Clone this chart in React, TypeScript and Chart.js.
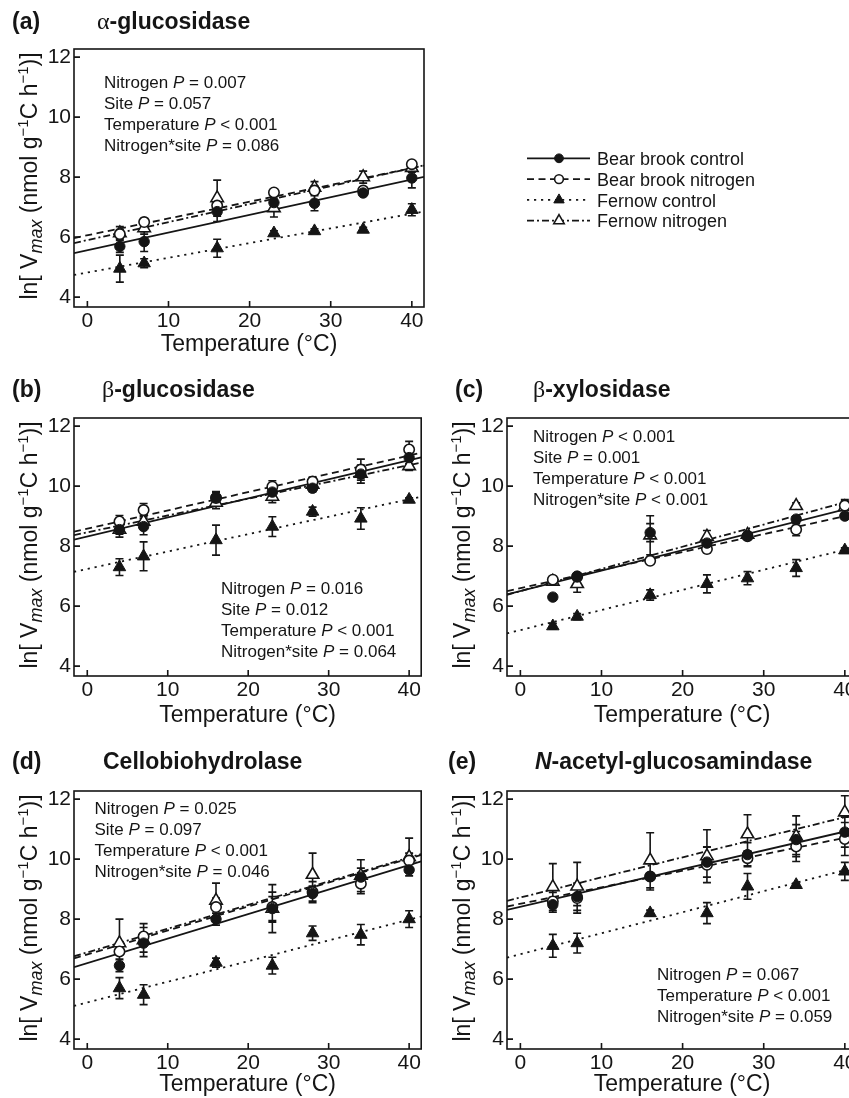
import React, { useEffect, useRef } from "react";
import { Chart, registerables } from "chart.js";

Chart.register(...registerables);

// ---------- shared data ----------
const temperatures = [4, 7, 16, 23, 28, 34, 40];
const xTickValues = [0, 10, 20, 30, 40];
const yTickValues = [4, 6, 8, 10, 12];
const xLimits = [-1.65, 41.5];
const yLimits = [3.67, 12.27];
const seriesNames = ["Bear brook control", "Bear brook nitrogen", "Fernow control", "Fernow nitrogen"];
const xTitle = "Temperature (°C)";

// ---------- (a) α-glucosidase ----------
const aBearControl = [5.69, 5.85, 6.85, 7.15, 7.13, 7.47, 7.97];
const aBearControlErr = [0.2, 0.33, 0.33, 0.2, 0.25, 0.08, 0.33];
const aBearNitrogen = [6.1, 6.5, 7.05, 7.49, 7.55, 7.55, 8.43];
const aBearNitrogenErr = [0.15, 0.12, 0.2, 0.08, 0.15, 0.08, 0.1];
const aFernowControl = [4.95, 5.13, 5.63, 6.13, 6.2, 6.25, 6.91];
const aFernowControlErr = [0.45, 0.15, 0.3, 0.08, 0.08, 0.08, 0.2];
const aFernowNitrogen = [6.13, 6.3, 7.3, 6.97, 7.65, 8.0, 8.31];
const aFernowNitrogenErr = [0.22, 0.2, 0.6, 0.3, 0.2, 0.2, 0.15];
const aIntercepts = [5.56, 6.06, 4.82, 5.9];
const aSlopes = [0.059, 0.056, 0.049, 0.06];

// ---------- (b) β-glucosidase ----------
const bBearControl = [8.55, 8.65, 9.62, 9.8, 9.93, 10.4, 10.95];
const bBearControlErr = [0.15, 0.27, 0.2, 0.15, 0.12, 0.3, 0.2];
const bBearNitrogen = [8.82, 9.2, 9.6, 9.98, 10.15, 10.55, 11.22];
const bBearNitrogenErr = [0.2, 0.22, 0.2, 0.2, 0.15, 0.35, 0.27];
const bFernowControl = [7.3, 7.66, 8.2, 8.65, 9.15, 8.92, 9.55];
const bFernowControlErr = [0.28, 0.48, 0.5, 0.33, 0.15, 0.36, 0.06];
const bFernowNitrogen = [8.55, 8.82, 9.45, 9.65, 10.05, 10.42, 10.67];
const bFernowNitrogenErr = [0.25, 0.2, 0.2, 0.2, 0.15, 0.15, 0.15];
const bIntercepts = [8.32, 8.58, 7.24, 8.46];
const bSlopes = [0.0636, 0.061, 0.058, 0.056];

// ---------- (c) β-xylosidase ----------
const cBearControl = [6.3, 7.0, 8.45, 8.1, 8.35, 8.9, 9.0];
const cBearControlErr = [0.1, 0.1, 0.3, 0.1, 0.1, 0.1, 0.1];
const cBearNitrogen = [6.88, 6.98, 7.51, 7.9, 8.33, 8.55, 9.35];
const cBearNitrogenErr = [0.1, 0.12, 0.1, 0.12, 0.1, 0.2, 0.15];
const cFernowControl = [5.33, 5.65, 6.37, 6.74, 6.93, 7.27, 7.86];
const cFernowControlErr = [0.1, 0.1, 0.17, 0.3, 0.22, 0.28, 0.08];
const cFernowNitrogen = [6.82, 6.74, 8.36, 8.32, 8.38, 9.34, 9.3];
const cFernowNitrogenErr = [0.12, 0.28, 0.65, 0.2, 0.1, 0.1, 0.25];
const cIntercepts = [6.5, 6.6, 5.2, 6.5];
const cSlopes = [0.068, 0.06, 0.067, 0.074];

// ---------- (d) Cellobiohydrolase ----------
const dBearControl = [6.45, 7.2, 8.0, 8.35, 8.85, 9.4, 9.64];
const dBearControlErr = [0.2, 0.3, 0.2, 0.4, 0.25, 0.3, 0.2];
const dBearNitrogen = [6.92, 7.42, 8.4, 8.4, 8.9, 9.18, 9.95];
const dBearNitrogenErr = [0.25, 0.3, 0.3, 0.5, 0.35, 0.33, 0.25];
const dFernowControl = [5.7, 5.48, 6.55, 6.45, 7.53, 7.48, 8.0];
const dFernowControlErr = [0.35, 0.33, 0.15, 0.28, 0.24, 0.34, 0.28];
const dFernowNitrogen = [7.2, 7.3, 8.62, 8.35, 9.48, 9.45, 10.07];
const dFernowNitrogenErr = [0.8, 0.55, 0.58, 0.8, 0.72, 0.53, 0.63];
const dIntercepts = [6.53, 6.82, 5.22, 6.89];
const dSlopes = [0.0817, 0.08, 0.069, 0.079];

// ---------- (e) N-acetyl-glucosamindase ----------
const eBearControl = [8.48, 8.75, 9.42, 9.9, 10.15, 10.65, 10.9];
const eBearControlErr = [0.25, 0.3, 0.45, 0.5, 0.4, 0.5, 0.5];
const eBearNitrogen = [8.59, 8.7, 9.42, 9.81, 10.03, 10.42, 10.67];
const eBearNitrogenErr = [0.3, 0.5, 0.45, 0.6, 0.25, 0.5, 0.55];
const eFernowControl = [7.11, 7.2, 8.2, 8.2, 9.09, 9.14, 9.59];
const eFernowControlErr = [0.38, 0.33, 0.1, 0.35, 0.43, 0.05, 0.3];
const eFernowNitrogen = [9.07, 9.09, 9.96, 10.1, 10.83, 10.76, 11.56];
const eFernowNitrogenErr = [0.78, 0.8, 0.92, 0.88, 0.65, 0.68, 0.55];
const eIntercepts = [8.41, 8.51, 6.83, 8.72];
const eSlopes = [0.0627, 0.055, 0.07, 0.067];

// ---------- statistics text ----------
const aNotes = [["Nitrogen ", " = 0.007"], ["Site ", " = 0.057"], ["Temperature ", " < 0.001"], ["Nitrogen*site ", " = 0.086"]];
const bNotes = [["Nitrogen ", " = 0.016"], ["Site ", " = 0.012"], ["Temperature ", " < 0.001"], ["Nitrogen*site ", " = 0.064"]];
const cNotes = [["Nitrogen ", " < 0.001"], ["Site ", " = 0.001"], ["Temperature ", " < 0.001"], ["Nitrogen*site ", " < 0.001"]];
const dNotes = [["Nitrogen ", " = 0.025"], ["Site ", " = 0.097"], ["Temperature ", " < 0.001"], ["Nitrogen*site ", " = 0.046"]];
const eNotes = [["Nitrogen ", " = 0.067"], ["Temperature ", " < 0.001"], ["Nitrogen*site ", " = 0.059"]];

// ---------- styles ----------
const SANS = '"Liberation Sans", Arial, Helvetica, sans-serif';
const SERIF = '"Liberation Serif", "Times New Roman", serif';
const INK = "#151515";
const Y_AXIS_W = 36;

type Seg = { text: string; font: string; dy?: number };

const seriesStyles = [
  { pointStyle: "circle", filled: true, dash: [] as number[], r: 5.2 },
  { pointStyle: "circle", filled: false, dash: [7, 4.5], r: 5.2 },
  { pointStyle: "triangle", filled: true, dash: [2.2, 4.8], r: 7.2 },
  { pointStyle: "triangle", filled: false, dash: [7, 3, 2, 3], r: 7.2 },
];

const TITLE_FONT = `bold 23px ${SANS}`;
const NOTE_FONT = `17px ${SANS}`;
const NOTE_ITALIC = `italic 17px ${SANS}`;
const NOTE_LH = 21.1;

interface PanelDef {
  key: string;
  letter: string;
  title: Seg[];
  series: number[][];
  errors: number[][];
  intercepts: number[];
  slopes: number[];
  notes: string[][];
  notesX: number;
  notesY: number;
  canvas: { x: number; y: number; w: number; h: number };
  area: { left: number; top: number; right: number; bottom: number };
  letterX: number;
  titleX: number;
  titleY: number;
  xTitleOffset: number;
  legend?: boolean;
}

const panels: PanelDef[] = [
  {
    key: "a",
    letter: "(a)",
    title: [
      { text: "α", font: `24px ${SERIF}` },
      { text: "-glucosidase", font: TITLE_FONT },
    ],
    series: [aBearControl, aBearNitrogen, aFernowControl, aFernowNitrogen],
    errors: [aBearControlErr, aBearNitrogenErr, aFernowControlErr, aFernowNitrogenErr],
    intercepts: aIntercepts,
    slopes: aSlopes,
    notes: aNotes,
    notesX: 104,
    notesY: 87.5,
    canvas: { x: 0, y: 0, w: 849, h: 365 },
    area: { left: 74, top: 49, right: 424, bottom: 307 },
    letterX: 12,
    titleX: 97,
    titleY: 29,
    xTitleOffset: 38,
    legend: true,
  },
  {
    key: "b",
    letter: "(b)",
    title: [
      { text: "β", font: `24px ${SERIF}` },
      { text: "-glucosidase", font: TITLE_FONT },
    ],
    series: [bBearControl, bBearNitrogen, bFernowControl, bFernowNitrogen],
    errors: [bBearControlErr, bBearNitrogenErr, bFernowControlErr, bFernowNitrogenErr],
    intercepts: bIntercepts,
    slopes: bSlopes,
    notes: bNotes,
    notesX: 221,
    notesY: 594,
    canvas: { x: 0, y: 365, w: 430, h: 365 },
    area: { left: 74, top: 418, right: 424, bottom: 676 },
    letterX: 12,
    titleX: 102,
    titleY: 397,
    xTitleOffset: 40,
  },
  {
    key: "c",
    letter: "(c)",
    title: [
      { text: "β", font: `24px ${SERIF}` },
      { text: "-xylosidase", font: TITLE_FONT },
    ],
    series: [cBearControl, cBearNitrogen, cFernowControl, cFernowNitrogen],
    errors: [cBearControlErr, cBearNitrogenErr, cFernowControlErr, cFernowNitrogenErr],
    intercepts: cIntercepts,
    slopes: cSlopes,
    notes: cNotes,
    notesX: 533,
    notesY: 441.5,
    canvas: { x: 430, y: 365, w: 440, h: 365 },
    area: { left: 507, top: 418, right: 857, bottom: 676 },
    letterX: 455,
    titleX: 533,
    titleY: 397,
    xTitleOffset: 40,
  },
  {
    key: "d",
    letter: "(d)",
    title: [{ text: "Cellobiohydrolase", font: TITLE_FONT }],
    series: [dBearControl, dBearNitrogen, dFernowControl, dFernowNitrogen],
    errors: [dBearControlErr, dBearNitrogenErr, dFernowControlErr, dFernowNitrogenErr],
    intercepts: dIntercepts,
    slopes: dSlopes,
    notes: dNotes,
    notesX: 94.5,
    notesY: 813.5,
    canvas: { x: 0, y: 730, w: 430, h: 372 },
    area: { left: 74, top: 791, right: 424, bottom: 1049 },
    letterX: 12,
    titleX: 103,
    titleY: 769,
    xTitleOffset: 36,
  },
  {
    key: "e",
    letter: "(e)",
    title: [
      { text: "N", font: `italic bold 23px ${SANS}` },
      { text: "-acetyl-glucosamindase", font: TITLE_FONT },
    ],
    series: [eBearControl, eBearNitrogen, eFernowControl, eFernowNitrogen],
    errors: [eBearControlErr, eBearNitrogenErr, eFernowControlErr, eFernowNitrogenErr],
    intercepts: eIntercepts,
    slopes: eSlopes,
    notes: eNotes,
    notesX: 657,
    notesY: 980,
    canvas: { x: 430, y: 730, w: 440, h: 372 },
    area: { left: 507, top: 791, right: 857, bottom: 1049 },
    letterX: 448,
    titleX: 535,
    titleY: 769,
    xTitleOffset: 36,
  },
];

const yTitleSegs: Seg[] = [
  { text: "ln[ V", font: `23px ${SANS}` },
  { text: "max", font: `italic 18px ${SANS}`, dy: 5 },
  { text: " (nmol g", font: `23px ${SANS}` },
  { text: "−1", font: `15px ${SANS}`, dy: -9 },
  { text: "C h", font: `23px ${SANS}` },
  { text: "−1", font: `15px ${SANS}`, dy: -9 },
  { text: ")]", font: `23px ${SANS}` },
];

function measureRich(ctx: CanvasRenderingContext2D, segs: Seg[]) {
  let w = 0;
  for (const s of segs) {
    ctx.font = s.font;
    w += ctx.measureText(s.text).width;
  }
  return w;
}

function drawRich(ctx: CanvasRenderingContext2D, segs: Seg[], x: number, y: number) {
  let cx = x;
  for (const s of segs) {
    ctx.font = s.font;
    ctx.fillText(s.text, cx, y + (s.dy || 0));
    cx += ctx.measureText(s.text).width;
  }
}

function drawMarker(ctx: CanvasRenderingContext2D, style: typeof seriesStyles[number], x: number, y: number, r: number) {
  ctx.save();
  ctx.beginPath();
  if (style.pointStyle === "circle") {
    ctx.arc(x, y, r, 0, Math.PI * 2);
  } else {
    let rad = 0;
    ctx.moveTo(x + Math.sin(rad) * r, y - Math.cos(rad) * r);
    rad += (2 * Math.PI) / 3;
    ctx.lineTo(x + Math.sin(rad) * r, y - Math.cos(rad) * r);
    rad += (2 * Math.PI) / 3;
    ctx.lineTo(x + Math.sin(rad) * r, y - Math.cos(rad) * r);
    ctx.closePath();
  }
  ctx.fillStyle = style.filled ? INK : "#ffffff";
  ctx.fill();
  ctx.lineWidth = style.filled ? 1 : 1.6;
  ctx.strokeStyle = INK;
  ctx.stroke();
  ctx.restore();
}

function makeDecor(def: PanelDef) {
  const ox = def.canvas.x;
  const oy = def.canvas.y;
  return {
    id: "decor_" + def.key,
    beforeDatasetDraw(chart: any, args: any) {
      if (args.index !== 3) return;
      const ctx: CanvasRenderingContext2D = chart.ctx;
      const ys = chart.scales.y;
      ctx.save();
      ctx.strokeStyle = INK;
      ctx.lineWidth = 1.6;
      ctx.beginPath();
      for (let s = 0; s < 4; s++) {
        const meta = chart.getDatasetMeta(s);
        meta.data.forEach((el: any, i: number) => {
          const v = def.series[s][i];
          const e = def.errors[s][i];
          const x = el.x;
          const yT = ys.getPixelForValue(v + e);
          const yB = ys.getPixelForValue(v - e);
          const cap = 4;
          ctx.moveTo(x, yT);
          ctx.lineTo(x, yB);
          ctx.moveTo(x - cap, yT);
          ctx.lineTo(x + cap, yT);
          ctx.moveTo(x - cap, yB);
          ctx.lineTo(x + cap, yB);
        });
      }
      ctx.stroke();
      ctx.restore();
    },
    afterDraw(chart: any) {
      const ctx: CanvasRenderingContext2D = chart.ctx;
      const a = chart.chartArea;
      const xs = chart.scales.x;
      const ys = chart.scales.y;
      ctx.save();
      // frame
      ctx.strokeStyle = INK;
      ctx.lineWidth = 1.6;
      ctx.strokeRect(a.left, a.top, a.right - a.left, a.bottom - a.top);
      // inward ticks
      ctx.beginPath();
      for (const v of xTickValues) {
        const px = xs.getPixelForValue(v);
        ctx.moveTo(px, a.bottom);
        ctx.lineTo(px, a.bottom - 6);
      }
      for (const v of yTickValues) {
        const py = ys.getPixelForValue(v);
        ctx.moveTo(a.left, py);
        ctx.lineTo(a.left + 6, py);
      }
      ctx.stroke();

      ctx.fillStyle = INK;
      ctx.textBaseline = "alphabetic";
      ctx.textAlign = "left";
      // panel letter + title
      ctx.font = TITLE_FONT;
      ctx.fillText(def.letter, def.letterX - ox, def.titleY - oy);
      drawRich(ctx, def.title, def.titleX - ox, def.titleY - oy);

      // statistics
      def.notes.forEach((line, i) => {
        drawRich(
          ctx,
          [
            { text: line[0], font: NOTE_FONT },
            { text: "P", font: NOTE_ITALIC },
            { text: line[1], font: NOTE_FONT },
          ],
          def.notesX - ox,
          def.notesY - oy + i * NOTE_LH
        );
      });

      // y-axis title (rotated rich text)
      const w = measureRich(ctx, yTitleSegs);
      ctx.save();
      ctx.translate(a.left - 37, (a.top + a.bottom) / 2 - 2);
      ctx.rotate(-Math.PI / 2);
      drawRich(ctx, yTitleSegs, -w / 2, 0);
      ctx.restore();

      // legend
      if (def.legend) {
        const rowY = [158.3, 179.1, 199.9, 220.7];
        for (let s = 0; s < 4; s++) {
          const st = seriesStyles[s];
          const y = rowY[s] - oy;
          ctx.save();
          ctx.strokeStyle = INK;
          ctx.lineWidth = 1.8;
          ctx.setLineDash(st.dash);
          ctx.beginPath();
          ctx.moveTo(527 - ox, y);
          ctx.lineTo(590 - ox, y);
          ctx.stroke();
          ctx.restore();
          drawMarker(ctx, st, 559 - ox, y, st.pointStyle === "circle" ? 4.4 : 6);
          ctx.font = `18px ${SANS}`;
          ctx.fillStyle = INK;
          ctx.fillText(seriesNames[s], 597 - ox, y + 6.6);
        }
      }
      ctx.restore();
    },
  };
}

function buildConfig(def: PanelDef): any {
  const datasets: any[] = [];
  for (let s = 0; s < 4; s++) {
    const st = seriesStyles[s];
    datasets.push({
      label: seriesNames[s],
      data: temperatures.map((t, i) => ({ x: t, y: def.series[s][i] })),
      showLine: false,
      pointStyle: st.pointStyle,
      pointRadius: st.r,
      pointBackgroundColor: st.filled ? INK : "#ffffff",
      pointBorderColor: INK,
      pointBorderWidth: st.filled ? 1 : 1.6,
      order: 1,
    });
  }
  for (let s = 0; s < 4; s++) {
    const st = seriesStyles[s];
    datasets.push({
      label: seriesNames[s] + " fit",
      data: xLimits.map((x) => ({ x, y: def.intercepts[s] + def.slopes[s] * x })),
      borderColor: INK,
      borderWidth: 1.8,
      borderDash: st.dash,
      pointRadius: 0,
      fill: false,
      tension: 0,
      order: 2,
    });
  }
  const xAxisH = def.xTitleOffset + 13.8;
  const c = def.canvas;
  const ar = def.area;
  return {
    type: "line",
    data: { datasets },
    options: {
      responsive: false,
      animation: false,
      devicePixelRatio: 1,
      events: [],
      layout: {
        padding: {
          left: ar.left - c.x - Y_AXIS_W,
          right: c.x + c.w - ar.right,
          top: ar.top - c.y,
          bottom: c.y + c.h - ar.bottom - xAxisH,
        },
      },
      plugins: {
        legend: { display: false },
        tooltip: { enabled: false },
        title: { display: false },
      },
      scales: {
        x: {
          type: "linear",
          min: xLimits[0],
          max: xLimits[1],
          grid: { display: false, drawTicks: false },
          border: { display: false },
          ticks: { font: { family: SANS, size: 21 }, color: INK, padding: 2, maxRotation: 0 },
          title: { display: true, text: xTitle, font: { family: SANS, size: 23 }, color: INK, padding: 0 },
          afterBuildTicks: (scale: any) => {
            scale.ticks = xTickValues.map((v) => ({ value: v }));
          },
          afterFit: (scale: any) => {
            scale.height = xAxisH;
          },
        },
        y: {
          type: "linear",
          min: yLimits[0],
          max: yLimits[1],
          grid: { display: false, drawTicks: false },
          border: { display: false },
          ticks: { font: { family: SANS, size: 21 }, color: INK, padding: 3 },
          afterBuildTicks: (scale: any) => {
            scale.ticks = yTickValues.map((v) => ({ value: v }));
          },
          afterFit: (scale: any) => {
            scale.width = Y_AXIS_W;
          },
        },
      },
    },
    plugins: [makeDecor(def)],
  };
}

function Panel({ def }: { def: PanelDef }) {
  const ref = useRef<HTMLCanvasElement>(null);
  useEffect(() => {
    if (!ref.current) return;
    const chart = new Chart(ref.current, buildConfig(def));
    return () => chart.destroy();
  }, [def]);
  return (
    <canvas
      ref={ref}
      width={def.canvas.w}
      height={def.canvas.h}
      style={{
        position: "absolute",
        left: def.canvas.x,
        top: def.canvas.y,
        width: def.canvas.w,
        height: def.canvas.h,
      }}
    />
  );
}

export default function App() {
  return (
    <div
      style={{
        position: "fixed",
        left: 0,
        top: 0,
        width: 849,
        height: 1098,
        overflow: "hidden",
        background: "#ffffff",
      }}
    >
      {panels.map((p) => (
        <Panel key={p.key} def={p} />
      ))}
    </div>
  );
}
